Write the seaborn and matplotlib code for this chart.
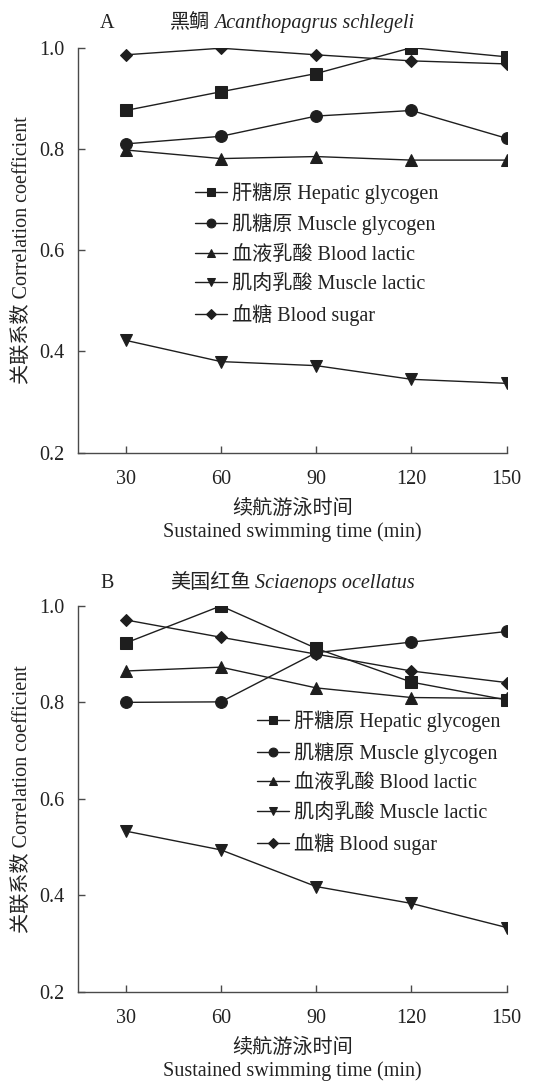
import numpy as np
import pandas as pd
import matplotlib
matplotlib.use("Agg")
import matplotlib.pyplot as plt
import seaborn as sns

# ---------------- data ----------------
times = [30, 60, 90, 120, 150]
series_names = ["肝糖原 Hepatic glycogen", "肌糖原 Muscle glycogen",
                "血液乳酸 Blood lactic", "肌肉乳酸 Muscle lactic", "血糖 Blood sugar"]

# Panel A: 黑鲷 Acanthopagrus schlegeli
a_hepatic = [0.876, 0.913, 0.949, 1.000, 0.982]
a_muscle_glycogen = [0.810, 0.825, 0.865, 0.876, 0.821]
a_blood_lactic = [0.798, 0.781, 0.785, 0.778, 0.778]
a_muscle_lactic = [0.422, 0.380, 0.372, 0.345, 0.337]
a_blood_sugar = [0.986, 0.999, 0.986, 0.974, 0.968]

# Panel B: 美国红鱼 Sciaenops ocellatus
b_hepatic = [0.923, 1.000, 0.912, 0.842, 0.805]
b_muscle_glycogen = [0.800, 0.801, 0.903, 0.925, 0.947]
b_blood_lactic = [0.865, 0.873, 0.830, 0.810, 0.808]
b_muscle_lactic = [0.533, 0.494, 0.418, 0.383, 0.333]
b_blood_sugar = [0.971, 0.935, 0.900, 0.865, 0.841]

x_ticks = [30, 60, 90, 120, 150]
y_ticks = [0.2, 0.4, 0.6, 0.8, 1.0]
y_tick_labels = ["0.2", "0.4", "0.6", "0.8", "1.0"]

# ---------------- style ----------------
sns.set_theme(style="ticks")
plt.rcParams["font.family"] = ["Liberation Serif", "Noto Sans CJK SC"]
FS = 14.5
LINE_C = "#1e1e1e"
SPINE_C = "#4a4a4a"

markers = ["s", "o", "^", "v", "D"]
msizes = [8.5, 8.5, 8.5, 8.5, 6.5]

fig = plt.figure(figsize=(5.54, 10.82), dpi=100)
axA = fig.add_axes([0.1408, 0.5816, 0.7738, 0.3743])
axB = fig.add_axes([0.1408, 0.0835, 0.7738, 0.3565])


def draw(ax, data, letter, cn, latin, leg_anchor, title_y, latin_gap):
    for name, vals, m, ms in zip(series_names, data, markers, msizes):
        df = pd.DataFrame({"t": times, "v": vals})
        sns.lineplot(data=df, x="t", y="v", ax=ax, color=LINE_C, marker=m,
                     markersize=ms, markeredgecolor=LINE_C, markerfacecolor=LINE_C,
                     linewidth=1.0, label=name)
    ax.set_xlim(15, 150)
    ax.set_ylim(0.2, 1.0)
    ax.set_xticks(x_ticks)
    ax.set_xticklabels([str(t) for t in x_ticks])
    ax.set_yticks(y_ticks)
    ax.set_yticklabels(y_tick_labels)
    ax.tick_params(axis="both", direction="in", length=5, width=1.0,
                   color=SPINE_C, labelsize=FS, labelcolor="#222222")
    ax.tick_params(axis="y", pad=10)
    ax.tick_params(axis="x", pad=12.5)
    for s in ["top", "right"]:
        ax.spines[s].set_visible(False)
    for s in ["left", "bottom"]:
        ax.spines[s].set_color(SPINE_C)
        ax.spines[s].set_linewidth(1.0)
    ax.set_ylabel("关联系数 Correlation coefficient", fontsize=FS, color="#222222")
    ax.yaxis.set_label_coords(-0.108, 0.5)
    ax.set_xlabel("续航游泳时间\nSustained swimming time (min)", fontsize=FS,
                  color="#222222", linespacing=1.2, labelpad=8)
    leg = ax.legend(loc="upper left", bbox_to_anchor=leg_anchor, frameon=False,
                    fontsize=FS, handlelength=1.6, handletextpad=0.25,
                    borderpad=0, borderaxespad=0, labelspacing=0.5,
                    markerscale=0.75)
    for t in leg.get_texts():
        t.set_color("#222222")
    ax.text(0.0513, title_y, letter, transform=ax.transAxes, fontsize=FS,
            va="baseline", ha="left", color="#222222")
    t1 = ax.text(0.2146, title_y, cn, transform=ax.transAxes, fontsize=FS,
                 va="baseline", ha="left", color="#222222")
    ax.annotate(latin, xy=(1, 0), xycoords=t1, xytext=(latin_gap, 0),
                textcoords="offset points", fontsize=FS, style="italic",
                va="bottom", ha="left", color="#222222")


draw(axA, [a_hepatic, a_muscle_glycogen, a_blood_lactic, a_muscle_lactic, a_blood_sugar],
     "A", "黑鲷", "Acanthopagrus schlegeli", (0.273, 0.668), 1.0486, 3)
draw(axB, [b_hepatic, b_muscle_glycogen, b_blood_lactic, b_muscle_lactic, b_blood_sugar],
     "B", "美国红鱼", "Sciaenops ocellatus", (0.4175, 0.728), 1.0467, 3)

fig.savefig("out.png", dpi=100)
